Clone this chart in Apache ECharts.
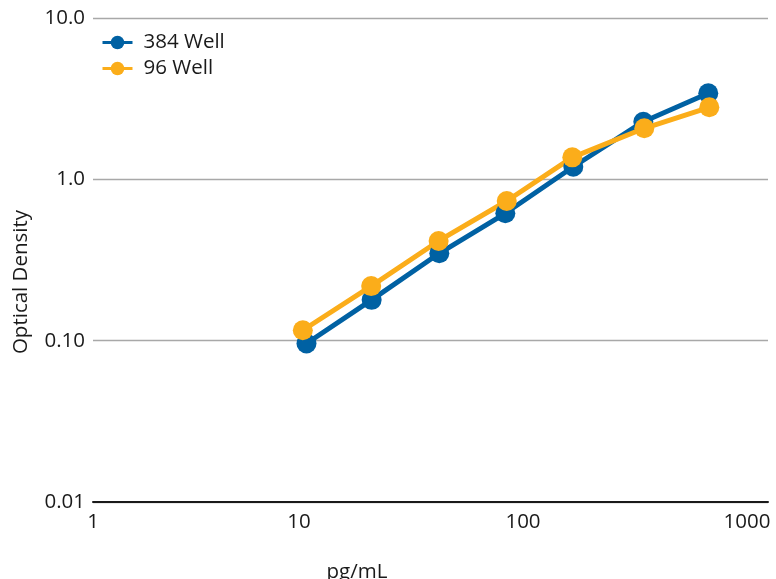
<!DOCTYPE html>
<html>
<head>
<meta charset="utf-8">
<script src="https://cdn.jsdelivr.net/npm/echarts@6/dist/echarts.min.js"></script>
<style>
html,body{margin:0;padding:0;background:#fff;}
#chart{width:776px;height:579px;}
</style>
</head>
<body>
<div id="chart"></div>
<script>
// Data
var seriesNames = ['384 Well', '96 Well'];
var conc384 = [10.8, 21.1, 42.3, 83.4, 167.7, 344.5, 671.7];
var od384   = [0.096, 0.179, 0.348, 0.616, 1.197, 2.276, 3.414];
var conc96  = [10.4, 21.0, 42.0, 84.6, 166.0, 347.9, 678.8];
var od96    = [0.116, 0.218, 0.415, 0.734, 1.369, 2.072, 2.796];
var xTickLabels = ['1', '10', '100', '1000'];
var yTickLabels = ['0.01', '0.10', '1.0', '10.0'];
var xTitle = 'pg/mL';
var yTitle = 'Optical Density';

var FONT = 'Open Sans';
var FS = 20.5;
function pairs(xs, ys) { return xs.map(function (x, i) { return [x, ys[i]]; }); }

var chart = echarts.init(document.getElementById('chart'));
chart.setOption({
  animation: false,
  textStyle: { fontFamily: FONT },
  grid: { left: 93, right: 8, top: 18, bottom: 77, containLabel: false },
  legend: {
    orient: 'vertical', left: 96, top: 27, itemGap: 5,
    itemWidth: 30, itemHeight: 17,
    data: seriesNames,
    lineStyle: { width: 3 },
    textStyle: { fontFamily: FONT, fontSize: FS, color: '#1a1a1a', padding: [0, 0, 0, 6] }
  },
  xAxis: {
    type: 'log', logBase: 10, min: 1.203, max: 1241,
    axisLine: { show: true, lineStyle: { color: '#1a1a1a', width: 2 } },
    axisTick: { show: false },
    splitLine: { show: false },
    axisLabel: {
      interval: 0, margin: 10, showMaxLabel: false,
      fontFamily: FONT, fontSize: FS, color: '#1a1a1a',
      formatter: function (v) {
        if (v > 1100) return '';
        var i = Math.round(Math.log10(v));
        return xTickLabels[i] || '';
      }
    }
  },
  yAxis: {
    type: 'log', logBase: 10, min: 0.01, max: 10,
    axisLine: { show: false },
    axisTick: { show: false },
    splitLine: { show: true, lineStyle: { color: '#a8a8a8', width: 1.3 } },
    axisLabel: {
      margin: 8, fontFamily: FONT, fontSize: FS, color: '#1a1a1a',
      formatter: function (v) {
        var i = Math.round(Math.log10(v)) + 2;
        return yTickLabels[i] || '';
      }
    }
  },
  graphic: [
    { type: 'text', x: 21, y: 282, rotation: Math.PI / 2,
      style: { text: yTitle, font: FS + 'px "Open Sans"', fill: '#1a1a1a', textAlign: 'center', textVerticalAlign: 'middle' } },
    { type: 'text', x: 357, y: 572,
      style: { text: xTitle, font: FS + 'px "Open Sans"', fill: '#1a1a1a', textAlign: 'center', textVerticalAlign: 'middle' } }
  ],
  series: [
    { name: seriesNames[0], type: 'line', data: pairs(conc384, od384),
      symbol: 'circle', symbolSize: 20,
      lineStyle: { color: '#0061a3', width: 5 },
      itemStyle: { color: '#0061a3' } },
    { name: seriesNames[1], type: 'line', data: pairs(conc96, od96),
      symbol: 'circle', symbolSize: 20,
      lineStyle: { color: '#fbad1a', width: 5 },
      itemStyle: { color: '#fbad1a' } }
  ]
});
</script>
</body>
</html>
